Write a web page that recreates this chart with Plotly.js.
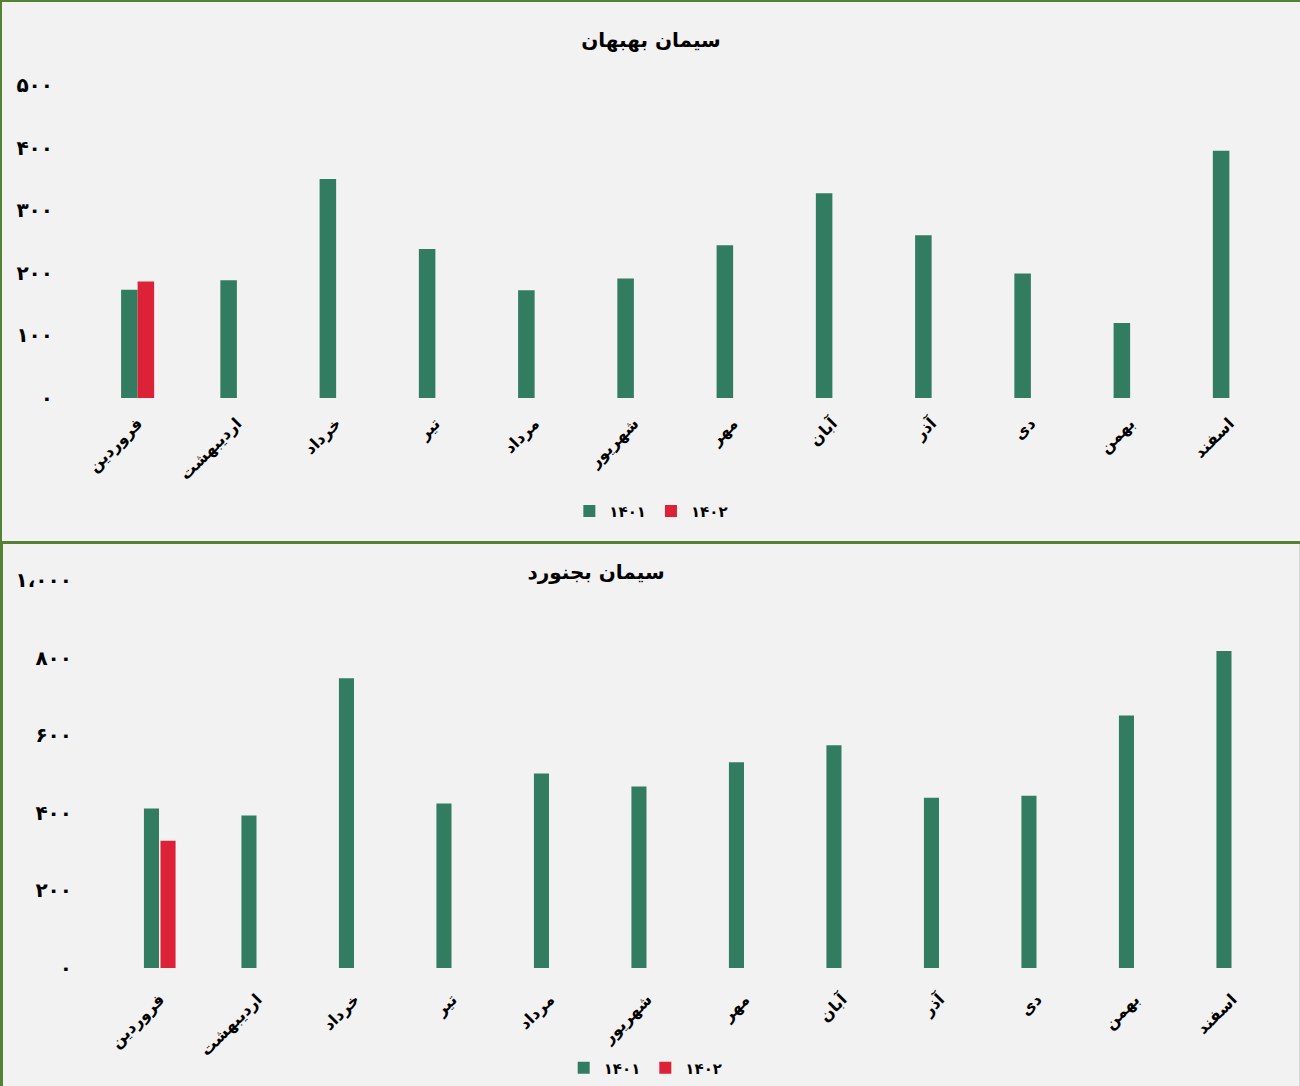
<!DOCTYPE html>
<html>
<head>
<meta charset="utf-8">
<script src="https://cdn.plot.ly/plotly-3.0.1.min.js"></script>
<style>
  html, body { margin: 0; padding: 0; background: #f2f2f2; }
  #wrap { width: 1300px; height: 1086px; position: relative; overflow: hidden; background: #f2f2f2; }
  #c1 { position: absolute; left: 0; top: 0; width: 1298px; height: 539px;
        border-top: 2px solid #548235; border-left: 2px solid #548235; border-bottom: 3px solid #548235; }
  #c2 { position: absolute; left: 0; top: 544px; width: 1296px; height: 542px;
        border-left: 3px solid #548235; border-right: 1px solid #d6d6d6; }
</style>
</head>
<body>
<div id="wrap">
  <div id="c1"></div>
  <div id="c2"></div>
</div>
<script>
// ---- Data ----
const months = ['فروردین','اردیبهشت','خرداد','تیر','مرداد','شهریور','مهر','آبان','آذر','دی','بهمن','اسفند'];
const seriesNames = ['۱۴۰۱','۱۴۰۲'];

const behbahan1401 = [173, 188, 350, 238, 172, 191, 244, 327, 260, 199, 120, 395];
const behbahan1402 = [186, null, null, null, null, null, null, null, null, null, null, null];

const bojnurd1401 = [411, 393, 747, 424, 501, 468, 530, 574, 439, 444, 651, 817];
const bojnurd1402 = [328, null, null, null, null, null, null, null, null, null, null, null];

const behbahanTickVals = [0, 100, 200, 300, 400, 500];
const behbahanTickText = ['۰', '۱۰۰', '۲۰۰', '۳۰۰', '۴۰۰', '۵۰۰'];
const bojnurdTickVals = [0, 200, 400, 600, 800, 1000];
const bojnurdTickText = ['۰', '۲۰۰', '۴۰۰', '۶۰۰', '۸۰۰', '۱،۰۰۰'];

const titles = ['سیمان بهبهان', 'سیمان بجنورد'];

const GREEN = '#327c61';
const RED = '#dc2236';
const FONT = 'DejaVu Sans, sans-serif';

function traces(a, b) {
  return [
    { type: 'bar', x: months, y: a, name: seriesNames[0], marker: { color: GREEN, line: { width: 0 } }, hoverinfo: 'skip' },
    { type: 'bar', x: months, y: b, name: seriesNames[1], marker: { color: RED, line: { width: 0 } }, hoverinfo: 'skip' }
  ];
}

function layout(o) {
  return {
    width: o.w, height: o.h,
    margin: Object.assign({ autoexpand: false }, o.margin),
    paper_bgcolor: '#f2f2f2', plot_bgcolor: '#f2f2f2',
    barmode: 'group', bargap: o.bargap, bargroupgap: o.bargroupgap,
    showlegend: true,
    font: { family: FONT, color: '#000', size: 14 },
    title: { text: o.title, x: o.titleX, xref: 'container', xanchor: 'center',
             y: o.titleY, yref: 'container', yanchor: 'middle', automargin: false,
             font: { family: FONT, size: 20, color: '#000', weight: 'bold' } },
    xaxis: { type: 'category', tickangle: -45, showgrid: false, zeroline: false, showline: false,
             automargin: false, ticks: '', ticklabelstandoff: o.xstandoff,
             tickfont: { family: FONT, size: 16, color: '#000', weight: 'bold' } },
    yaxis: { range: o.yrange, tickvals: o.tickvals, ticktext: o.ticktext, showgrid: false,
             automargin: false, zeroline: false, showline: false, ticks: '', ticklabelstandoff: o.standoff,
             tickfont: { family: FONT, size: 20, color: '#000', weight: 'bold' } },
    legend: { orientation: 'h', x: o.legX, xanchor: 'center', y: o.legY, yanchor: 'middle',
              bgcolor: 'rgba(0,0,0,0)', font: { family: FONT, size: 15, color: '#000', weight: 'bold' },
              itemwidth: 30, traceorder: 'normal' }
  };
}

Plotly.newPlot('c1', traces(behbahan1401, behbahan1402), layout({
  w: 1298, h: 539, margin: { l: 86, r: 21, t: 83, b: 143 },
  bargap: 0.667, bargroupgap: 0,
  title: titles[0], titleX: 0.5, titleY: 1 - 38 / 539,
  yrange: [0, 500], tickvals: behbahanTickVals, ticktext: behbahanTickText, standoff: 34, xstandoff: 12,
  legX: 0.473, legY: -0.362
}), { displayModeBar: false, staticPlot: true });

Plotly.newPlot('c2', traces(bojnurd1401, bojnurd1402), layout({
  w: 1296, h: 542, margin: { l: 108, r: 18, t: 36, b: 118 },
  bargap: 0.66, bargroupgap: 0.09,
  title: titles[1], titleX: 593 / 1296, titleY: 1 - 28 / 542,
  yrange: [0, 1000], tickvals: bojnurdTickVals, ticktext: bojnurdTickText, standoff: 38, xstandoff: 18,
  legX: 0.457, legY: -0.258
}), { displayModeBar: false, staticPlot: true });
</script>
</body>
</html>
